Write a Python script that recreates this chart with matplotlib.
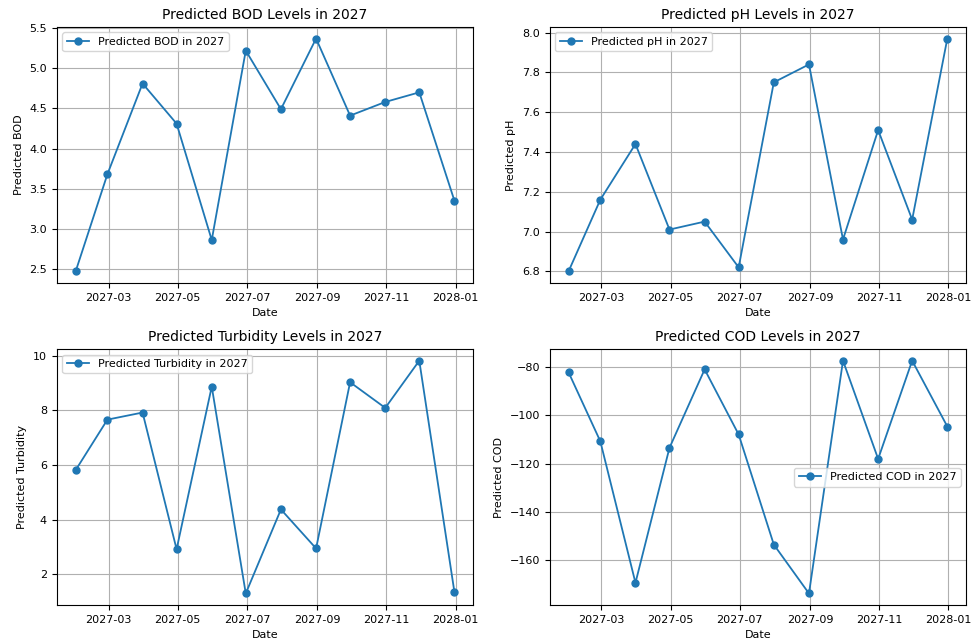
import numpy as np
import pandas as pd
import matplotlib
matplotlib.use('Agg')
import matplotlib.pyplot as plt

# month-end dates for the 2027 forecast
dates = pd.date_range('2027-01-31', periods=12, freq='ME')

bod = [2.47, 3.68, 4.81, 4.31, 2.86, 5.22, 4.49, 5.37, 4.41, 4.58, 4.70, 3.35]
ph = [6.80, 7.16, 7.44, 7.01, 7.05, 6.82, 7.75, 7.84, 6.96, 7.51, 7.06, 7.97]
turbidity = [5.81, 7.66, 7.92, 2.91, 8.87, 1.29, 4.37, 2.94, 9.03, 8.09, 9.82, 1.34]
cod = [-82.3, -110.8, -169.3, -113.5, -81.1, -108.0, -153.5, -173.7, -77.5, -118.1, -77.5, -104.7]

params = ['BOD', 'pH', 'Turbidity', 'COD']
series = [bod, ph, turbidity, cod]
legend_locs = ['upper left', 'upper left', 'upper left', 'center right']

plt.rcParams['font.size'] = 8

fig, axes = plt.subplots(2, 2, figsize=(9.78, 6.41), dpi=100)
fig.subplots_adjust(left=0.058, right=0.988, top=0.958, bottom=0.056,
                    wspace=0.183, hspace=0.258)

for ax, name, vals, loc in zip(axes.flat, params, series, legend_locs):
    ax.plot(dates, vals, marker='o', markersize=5, linewidth=1.3,
            label='Predicted ' + name + ' in 2027')
    ax.set_title('Predicted ' + name + ' Levels in 2027', fontsize=10)
    ax.set_xlabel('Date')
    ax.set_ylabel('Predicted ' + name)
    ax.legend(loc=loc)
    ax.grid(True)

plt.savefig('out.png')
